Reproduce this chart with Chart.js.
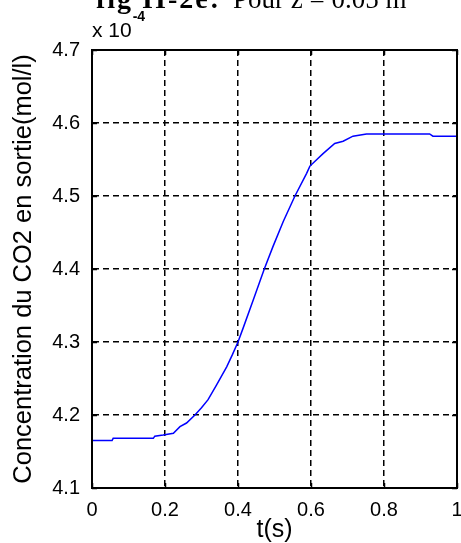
<!DOCTYPE html>
<html>
<head>
<meta charset="utf-8">
<script src="https://cdn.jsdelivr.net/npm/chart.js@4/dist/chart.umd.min.js"></script>
<style>
  html, body { margin: 0; padding: 0; background: #fff; }
  #cadre { width: 461px; height: 543px; position: relative; }
</style>
</head>
<body>
<div id="cadre"><canvas id="courbe"></canvas></div>
<script>
// temps (s) et concentration en sortie (x 1e-4 mol/l)
const temps = [0, 0.055, 0.058, 0.168, 0.172, 0.195, 0.223, 0.241, 0.259, 0.282, 0.300, 0.318,
    0.341, 0.369, 0.385, 0.400, 0.414, 0.442, 0.472, 0.496, 0.524, 0.556,
    0.588, 0.597, 0.633, 0.665, 0.688, 0.715, 0.752, 0.925, 0.934, 1.0];
const concentration = [4.165, 4.165, 4.168, 4.168, 4.171, 4.1726, 4.175, 4.184, 4.189, 4.200, 4.210, 4.221,
    4.241, 4.266, 4.283, 4.300, 4.319, 4.358, 4.400, 4.431, 4.465, 4.500,
    4.531, 4.541, 4.558, 4.572, 4.575, 4.582, 4.585, 4.585, 4.582, 4.582];

const ticksT = [0, 0.2, 0.4, 0.6, 0.8, 1];
const ticksC = [4.1, 4.2, 4.3, 4.4, 4.5, 4.6, 4.7];

const TITRE_GRAS = 'fig II-2e:';
const TITRE = 'Pour z = 0.05 m';
const LABEL_X = 't(s)';
const LABEL_Y = 'Concentration du CO2 en sortie(mol/l)';

const police = "'Liberation Sans', Arial, sans-serif";
const serif = "'Liberation Serif', 'Times New Roman', serif";

// cadre noir + petites graduations vers l'intérieur (style matlab)
const boite = {
    id: 'boite',
    afterDraw(chart) {
        const ctx = chart.ctx;
        const a = chart.chartArea;
        const sx = chart.scales.x, sy = chart.scales.y;
        const L = 5;
        ctx.save();
        ctx.strokeStyle = '#000';
        ctx.lineWidth = 1.5;
        ctx.beginPath();
        ticksT.forEach(v => {
            const px = Math.round(sx.getPixelForValue(v)) + 0.5;
            ctx.moveTo(px, a.bottom); ctx.lineTo(px, a.bottom - L);
            ctx.moveTo(px, a.top); ctx.lineTo(px, a.top + L);
        });
        ticksC.forEach(v => {
            const py = Math.round(sy.getPixelForValue(v)) + 0.5;
            ctx.moveTo(a.left, py); ctx.lineTo(a.left + L, py);
            ctx.moveTo(a.right, py); ctx.lineTo(a.right - L, py);
        });
        ctx.stroke();
        ctx.lineWidth = 2;
        ctx.strokeRect(Math.round(a.left), Math.round(a.top),
            Math.round(a.right - a.left), Math.round(a.bottom - a.top));

        // facteur d'échelle de l'axe y
        ctx.fillStyle = '#000';
        ctx.textBaseline = 'alphabetic';
        ctx.textAlign = 'left';
        ctx.font = '21px ' + police;
        ctx.fillText('x 10', a.left, 37);
        const w = ctx.measureText('x 10').width;
        ctx.font = 'bold 14px ' + police;
        ctx.fillText('-4', a.left + w + 1, 21);

        // titre (coupé en haut)
        ctx.font = 'bold 28px ' + serif;
        ctx.letterSpacing = '2px';
        ctx.fillText(TITRE_GRAS, 96, 8);
        ctx.letterSpacing = '0px';
        ctx.font = '27px ' + serif;
        ctx.fillText(TITRE, 233, 8);
        ctx.restore();
    }
};

new Chart(document.getElementById('courbe'), {
    type: 'line',
    data: {
        datasets: [{
            data: temps.map((t, i) => ({x: t, y: concentration[i]})),
            borderColor: '#0000ff',
            borderWidth: 1.5,
            pointRadius: 0,
            tension: 0,
            fill: false
        }]
    },
    options: {
        responsive: true,
        maintainAspectRatio: false,
        animation: false,
        layout: {padding: {top: 50, right: 4, left: 0, bottom: 0}},
        plugins: {legend: {display: false}, tooltip: {enabled: false}},
        scales: {
            x: {
                type: 'linear',
                min: 0, max: 1,
                afterBuildTicks: s => { s.ticks = ticksT.map(v => ({value: v})); },
                afterFit: s => { s.height = 55; s.paddingLeft = 0; s.paddingRight = 0; },
                ticks: {
                    color: '#000',
                    font: {family: police, size: 20},
                    padding: 10,
                    maxRotation: 0,
                    callback: v => (v === 0 || v === 1) ? String(v) : v.toFixed(1)
                },
                grid: {color: '#000', lineWidth: 1.5, drawTicks: false},
                border: {display: true, color: '#000', width: 1, dash: [6, 4]},
                title: {
                    display: true, text: LABEL_X, color: '#000',
                    font: {family: police, size: 25, lineHeight: 1},
                    padding: {top: 0, bottom: 0}
                }
            },
            y: {
                min: 4.1, max: 4.7,
                afterBuildTicks: s => { s.ticks = ticksC.map(v => ({value: v})); },
                afterFit: s => { s.width = 92; },
                ticks: {
                    color: '#000',
                    font: {family: police, size: 20},
                    padding: 12,
                    callback: v => v.toFixed(1)
                },
                grid: {color: '#000', lineWidth: 1.5, drawTicks: false},
                border: {display: true, color: '#000', width: 1, dash: [6, 4]},
                title: {
                    display: true, text: LABEL_Y, color: '#000',
                    font: {family: police, size: 25.5, lineHeight: 1.2},
                    padding: {top: 9, bottom: 0}
                }
            }
        }
    },
    plugins: [boite]
});
</script>
</body>
</html>
